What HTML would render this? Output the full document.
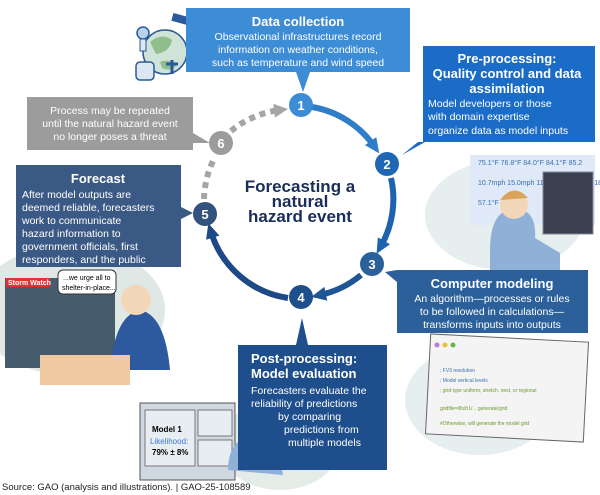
<!DOCTYPE html>
<html><head><meta charset="utf-8"><style>
body{margin:0;background:#fff;}
svg{display:block;font-family:"Liberation Sans",Arial,sans-serif;}
</style></head><body>
<svg width="600" height="495" viewBox="0 0 600 495" xmlns="http://www.w3.org/2000/svg">
<defs>
<marker id="a1" markerWidth="16" markerHeight="16" refX="6" refY="8" orient="auto" markerUnits="userSpaceOnUse"><path d="M0,1 L15,8 L0,15 z" fill="#2f7cc8"/></marker>
<marker id="a2" markerWidth="16" markerHeight="16" refX="6" refY="8" orient="auto" markerUnits="userSpaceOnUse"><path d="M0,1 L15,8 L0,15 z" fill="#1d63ad"/></marker>
<marker id="a3" markerWidth="16" markerHeight="16" refX="6" refY="8" orient="auto" markerUnits="userSpaceOnUse"><path d="M0,1 L15,8 L0,15 z" fill="#1f5595"/></marker>
<marker id="a4" markerWidth="16" markerHeight="16" refX="6" refY="8" orient="auto" markerUnits="userSpaceOnUse"><path d="M0,1 L15,8 L0,15 z" fill="#1d4a86"/></marker>
<marker id="ag" markerWidth="16" markerHeight="16" refX="6" refY="8" orient="auto" markerUnits="userSpaceOnUse"><path d="M0,1 L14,8 L0,15 z" fill="#a5a5a5"/></marker>
</defs>
<!-- illustration: data collection -->
<circle cx="165" cy="52" r="22" fill="#cfe3d8" stroke="#2a5a9a" stroke-width="1.5"/>
<path d="M150 42 q12 -10 22 -2 q-2 12 -16 14z M160 62 q10 -4 16 4 q-6 6 -14 2z" fill="#8fbf8a"/>
<rect x="136" y="62" width="18" height="18" rx="4" fill="#dbe7f3" stroke="#2a5a9a" stroke-width="1.5"/>
<circle cx="143" cy="33" r="6" fill="#b8d2ec" stroke="#2a5a9a" stroke-width="1.5"/>
<rect x="140" y="39" width="6" height="12" fill="#dbe7f3" stroke="#2a5a9a"/>
<rect x="172" y="16" width="24" height="8" fill="#2a5a9a" transform="rotate(15 184 20)"/>
<path d="M172 60 v14 M166 64 h12" stroke="#2a5a9a" stroke-width="3"/>
<!-- pre-processing illustration -->
<ellipse cx="505" cy="215" rx="80" ry="55" fill="#e6eef0"/>
<rect x="470" y="155" width="125" height="70" fill="#dfe9f7"/>
<text x="478" y="165" font-size="7" fill="#3a6fb0">75.1°F  76.8°F  84.0°F  84.1°F  85.2</text>
<text x="478" y="185" font-size="7" fill="#3a6fb0">10.7mph 15.0mph 11.5mph 21.1mph 18.6m</text>
<text x="478" y="205" font-size="7" fill="#3a6fb0">57.1°F   57.1°F</text>
<rect x="543" y="172" width="50" height="62" fill="#3a4050" stroke="#889"/>
<path d="M490 250 q0 -40 25 -42 q22 2 20 30 l25 15 v25 h-70z" fill="#8fb1d8"/>
<circle cx="514" cy="205" r="14" fill="#f2d6b8"/>
<path d="M500 200 q14 -18 28 -2" fill="#d9a35a"/>
<!-- forecast illustration -->
<ellipse cx="70" cy="310" rx="95" ry="65" fill="#dfe8e4"/>
<rect x="5" y="278" width="110" height="90" fill="#465b6c"/>
<rect x="6" y="278" width="44" height="9" fill="#d33"/>
<text x="8" y="285" font-size="7" fill="#fff" font-weight="bold">Storm Watch</text>
<rect x="58" y="270" width="58" height="24" rx="5" fill="#fff" stroke="#333"/>
<text x="63" y="280" font-size="7">...we urge all to</text>
<text x="62" y="290" font-size="7">shelter-in-place...</text>
<path d="M110 370 q5 -55 30 -60 q25 5 30 60z" fill="#2d5a9e"/>
<circle cx="136" cy="300" r="15" fill="#f2d6b8"/>
<rect x="40" y="355" width="90" height="30" fill="#f0c9a0"/>
<!-- post-processing illustration -->
<ellipse cx="280" cy="445" rx="60" ry="45" fill="#e4ece8"/>
<rect x="140" y="403" width="95" height="77" fill="#cfd8e0" stroke="#555"/>
<rect x="145" y="410" width="50" height="56" fill="#e8edf1" stroke="#777"/>
<text x="152" y="432" font-size="8" font-weight="bold">Model 1</text>
<text x="150" y="444" font-size="8" fill="#3a7bd0">Likelihood:</text>
<text x="152" y="455" font-size="8" font-weight="bold">79% ± 8%</text>
<rect x="198" y="410" width="34" height="26" fill="#e8edf1" stroke="#777"/>
<rect x="198" y="440" width="34" height="26" fill="#e8edf1" stroke="#777"/>
<path d="M228 470 q0 -30 25 -35 q25 5 30 40z" fill="#8fb1d8"/>
<circle cx="252" cy="425" r="13" fill="#f2d6b8"/>
<!-- computer modeling illustration -->
<ellipse cx="480" cy="400" rx="75" ry="55" fill="#e6eef0"/>
<rect x="428" y="338" width="158" height="100" fill="#f4f4f4" stroke="#666" transform="rotate(3 507 388)"/>
<circle cx="437" cy="345" r="2.5" fill="#c07ad0"/><circle cx="445" cy="345" r="2.5" fill="#e8c040"/><circle cx="453" cy="345" r="2.5" fill="#6ab04c"/>
<g font-size="5" fill="#3a6fb0"><text x="440" y="372">; FV3 resolution</text><text x="440" y="382">; Model vertical levels</text><text x="440" y="392" fill="#6a9a2a">; grid type uniform, stretch, nest, or regional</text><text x="440" y="410" fill="#6a9a2a">gridfile=/lfs/h1/... generate/grid</text><text x="440" y="425" fill="#6a9a2a">#Otherwise, will generate the model grid</text></g>

<!-- cycle arcs (center 297,204 r 95) -->
<path d="M312,107 A95,95 0 0 1 374,146" fill="none" stroke="#2f7cc8" stroke-width="6" marker-end="url(#a1)"/>
<path d="M391,178 A95,95 0 0 1 381,246" fill="none" stroke="#1d63ad" stroke-width="6" marker-end="url(#a2)"/>
<path d="M361,275 A95,95 0 0 1 320,295" fill="none" stroke="#1f5595" stroke-width="6" marker-end="url(#a3)"/>
<path d="M288,298 A95,95 0 0 1 211,232" fill="none" stroke="#1d4a86" stroke-width="6" marker-end="url(#a4)"/>
<path d="M204,199 A95,95 0 0 1 215,157" fill="none" stroke="#a5a5a5" stroke-width="6" stroke-dasharray="6,5"/>
<path d="M231,131 A95,95 0 0 1 280,110" fill="none" stroke="#a5a5a5" stroke-width="6" stroke-dasharray="6,5" marker-end="url(#ag)"/>

<!-- boxes -->
<path d="M186,8 H410 V72 H310 L303,92 L296,72 H186z" fill="#3d8cd6"/>
<text x="298" y="26" font-size="13" font-weight="bold" fill="#fff" text-anchor="middle">Data collection</text>
<g font-size="10.5" fill="#fff" text-anchor="middle"><text x="298" y="40">Observational infrastructures record</text><text x="298" y="53">information on weather conditions,</text><text x="298" y="66">such as temperature and wind speed</text></g>

<path d="M423,46 H595 V142 H425 L402,155 L418,142 H423z" fill="#1b6cc6"/>
<g font-size="13" font-weight="bold" fill="#fff" text-anchor="middle"><text x="507" y="63">Pre-processing:</text><text x="507" y="78">Quality control and data</text><text x="507" y="93">assimilation</text></g>
<g font-size="10.5" fill="#fff"><text x="428" y="107">Model developers or those</text><text x="428" y="120">with domain expertise</text><text x="428" y="134">organize data as model inputs</text></g>

<path d="M27,97 H193 V133 L210,143 L193,143 V150 H27z" fill="#9c9c9c"/>
<g font-size="10.5" fill="#fff" text-anchor="middle"><text x="110" y="114">Process may be repeated</text><text x="110" y="127">until the natural hazard event</text><text x="110" y="140">no longer poses a threat</text></g>

<path d="M16,165 H181 V207 L193,213 L181,219 V267 H16z" fill="#3b5985"/>
<text x="98" y="183" font-size="13" font-weight="bold" fill="#fff" text-anchor="middle">Forecast</text>
<g font-size="10.5" fill="#fff"><text x="22" y="198">After model outputs are</text><text x="22" y="211">deemed reliable, forecasters</text><text x="22" y="224">work to communicate</text><text x="22" y="237">hazard information to</text><text x="22" y="250">government officials, first</text><text x="22" y="263">responders, and the public</text></g>

<path d="M397,270 H588 V333 H397 V282 L385,272 z" fill="#2b609a"/>
<text x="492" y="288" font-size="13" font-weight="bold" fill="#fff" text-anchor="middle">Computer modeling</text>
<g font-size="10.5" fill="#fff" text-anchor="middle"><text x="492" y="302">An algorithm—processes or rules</text><text x="492" y="315">to be followed in calculations—</text><text x="492" y="328">transforms inputs into outputs</text></g>

<path d="M238,345 H296 L302,318 L308,345 H387 V470 H238z" fill="#1e4f8c"/>
<g font-size="13" font-weight="bold" fill="#fff"><text x="251" y="363">Post-processing:</text><text x="251" y="378">Model evaluation</text></g>
<g font-size="10.5" fill="#fff"><text x="251" y="394">Forecasters evaluate the</text><text x="251" y="407">reliability of predictions</text><text x="278" y="420">by comparing</text><text x="284" y="433">predictions from</text><text x="288" y="446">multiple models</text></g>

<!-- numbers -->
<g font-size="13" font-weight="bold" fill="#fff" text-anchor="middle">
<circle cx="301" cy="105" r="12" fill="#3d8cd6"/><text x="301" y="110">1</text>
<circle cx="387" cy="164" r="12" fill="#1f67b2"/><text x="387" y="169">2</text>
<circle cx="372" cy="264" r="12" fill="#2b609a"/><text x="372" y="269">3</text>
<circle cx="301" cy="297" r="12" fill="#1e4f8c"/><text x="301" y="302">4</text>
<circle cx="205" cy="214" r="12" fill="#34527e"/><text x="205" y="219">5</text>
<circle cx="221" cy="143" r="12" fill="#9c9c9c"/><text x="221" y="148">6</text>
</g>
<g font-size="17" font-weight="bold" fill="#1a2e5a" text-anchor="middle"><text x="300" y="192">Forecasting a</text><text x="300" y="207">natural</text><text x="300" y="222">hazard event</text></g>

<text x="2" y="490" font-size="9.5" fill="#222">Source: GAO (analysis and illustrations).  |  GAO-25-108589</text>
</svg>
</body></html>
